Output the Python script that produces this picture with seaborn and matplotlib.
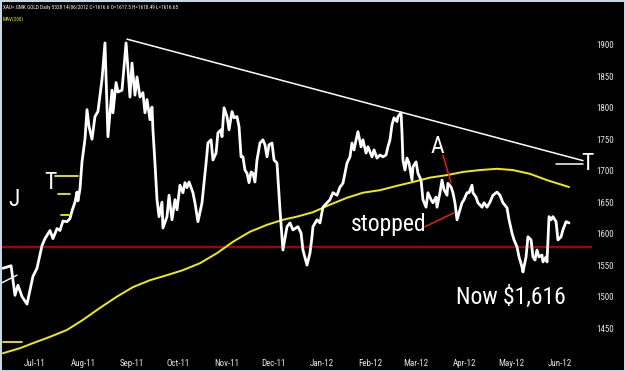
import matplotlib
matplotlib.use("Agg")
import matplotlib.pyplot as plt
import numpy as np
import pandas as pd
import seaborn as sns

# -----------------------------------------------------------------------------
# DATOS (días desde el 18/06/2011)
# -----------------------------------------------------------------------------
start = pd.Timestamp("2011-06-18")

price_days = [
    0.6, 5.8, 8.3, 10.2, 12.8, 16.0, 19.8, 22.4, 25.6, 27.5, 30.7, 32.6, 35.2, 37.1, 39.0, 41.6,
    43.5, 44.8, 46.7, 48.0, 48.6, 49.9, 51.2, 53.1, 54.4, 55.7, 57.6, 59.5, 61.4, 64.0, 65.9,
    67.8, 70.4, 71.0, 73.0, 74.2, 76.8, 79.4, 81.9, 83.2, 85.1, 86.4, 88.3, 90.2, 91.5, 92.8,
    94.7, 96.0, 96.6, 97.9, 99.2, 100.5, 102.4, 103.0, 105.6, 106.9, 108.8, 110.7, 112.0, 113.9,
    115.8, 117.1, 118.4, 119.7, 122.2, 123.5, 125.4, 128.0,
    130.6, 131.8, 133.8, 135.0, 137.0, 138.2, 140.2, 140.8, 142.1, 144.0, 145.3, 147.2, 148.5,
    150.4, 151.7, 153.0, 154.2, 155.5, 156.8, 158.1, 159.4, 160.6, 161.9, 163.2, 165.1, 167.0,
    168.3, 169.6, 170.9, 172.8, 174.1, 176.0,
    177.9, 179.8, 182.4, 184.3, 186.2, 189.4, 191.4, 192.6, 195.2, 197.1, 198.4, 199.0, 201.6,
    203.5, 205.4, 208.0, 209.9, 211.8, 214.4, 216.3, 218.2, 220.8, 222.7, 224.0, 225.3, 226.6,
    227.8, 229.8, 231.0, 233.0, 234.2, 236.8, 238.1, 240.0, 241.9, 243.8, 245.8, 247.0, 248.3,
    249.6, 250.9, 252.8, 253.4, 255.4,
    256.0, 256.6, 257.9, 259.2, 260.5, 262.4, 263.0, 265.0, 266.2, 268.2, 269.4, 271.4, 272.6,
    274.6, 275.8, 277.8, 278.4, 280.3, 281.6, 282.9, 284.8, 285.4, 287.4, 288.6, 289.9, 291.2,
    292.5, 294.4, 295.7, 297.6, 298.9, 300.8, 301.4, 303.4, 304.6, 307.2, 308.5, 310.4, 312.3,
    314.2, 316.8, 318.7, 320.6, 323.2, 324.5, 326.4, 327.7, 329.6, 330.9, 332.8, 333.4, 335.4,
    336.6, 338.6, 339.8, 341.1, 342.4, 343.7, 345.6, 346.2, 348.2, 348.8, 350.1, 351.4, 352.6,
    354.6, 355.8, 357.8, 359.0, 361.0, 362.9,
]
price_close = [
    1545, 1549, 1502, 1518, 1500, 1488, 1532, 1545, 1581, 1592, 1605, 1592, 1608, 1605, 1620, 1619,
    1624, 1636, 1650, 1666, 1652, 1671, 1714, 1750, 1797, 1770, 1750, 1786, 1794, 1845, 1903,
    1754, 1828, 1792, 1840, 1825, 1828, 1903, 1817, 1871, 1820, 1849, 1817, 1824, 1792, 1813,
    1781, 1801, 1765, 1712, 1654, 1627, 1650, 1609, 1627, 1661, 1622, 1654, 1638, 1677,
    1665, 1681, 1673, 1682, 1665, 1649, 1619, 1649,
    1712, 1744, 1749, 1717, 1728, 1760, 1765, 1754, 1800, 1786, 1765, 1794, 1784,
    1786, 1770, 1722, 1722, 1701, 1696, 1681, 1698, 1696, 1682, 1717, 1744, 1749,
    1741, 1722, 1741, 1744, 1717, 1712,
    1638, 1574, 1611, 1617, 1606, 1611, 1601, 1574, 1550, 1569, 1595, 1611, 1622,
    1617, 1642, 1649, 1654, 1665, 1661, 1674, 1680, 1712, 1722, 1744, 1733, 1749,
    1762, 1738, 1749, 1728, 1738, 1722, 1733, 1720, 1725, 1722, 1725, 1738, 1749,
    1773, 1784, 1778, 1786, 1792,
    1760, 1717, 1701, 1720, 1712, 1685, 1706, 1714, 1696, 1685, 1654, 1642, 1665,
    1654, 1649, 1658, 1642, 1665, 1685, 1670, 1661, 1680, 1674, 1665, 1649, 1622,
    1633, 1649, 1654, 1665, 1665, 1677, 1665, 1658, 1649, 1642, 1649, 1642, 1650,
    1661, 1666, 1661, 1649, 1641, 1622, 1601, 1590, 1579, 1563, 1547, 1539, 1563,
    1595, 1590, 1563, 1558, 1574, 1563, 1566, 1555, 1563, 1555, 1627, 1622, 1627,
    1619, 1590, 1595, 1606, 1619, 1617,
]

# Media móvil de 200 sesiones
mav_days = [0.6, 11.5, 19.8, 30.7, 41.6, 51.8, 62.7, 73.6, 83.8, 94.7, 105.6, 115.8,
            126.7, 137.6, 147.8, 158.7, 169.6, 179.8, 188.8, 199.0, 209.9, 220.8,
            231.0, 241.9, 252.8, 263.0, 273.9, 284.8, 295.0, 305.9, 316.8, 327.0,
            337.9, 348.8, 362.9]
mav_values = [1410, 1418, 1426, 1436, 1447, 1463, 1482, 1500, 1515, 1526, 1534, 1542,
              1553, 1569, 1587, 1603, 1614, 1622, 1627, 1634, 1646, 1657,
              1665, 1669, 1676, 1682, 1689, 1693, 1698, 1701, 1703, 1701,
              1695, 1685, 1674]

support_level = 1578
trend_days = [80.0, 371.8]
trend_values = [1909, 1716]

tick_dates = ["2011-07-09", "2011-08-09", "2011-09-09", "2011-10-09", "2011-11-09", "2011-12-09",
              "2012-01-09", "2012-02-09", "2012-03-09", "2012-04-09", "2012-05-09", "2012-06-09"]
tick_labels = ["Jul-11", "Aug-11", "Sep-11", "Oct-11", "Nov-11", "Dec-11",
               "Jan-12", "Feb-12", "Mar-12", "Apr-12", "May-12", "Jun-12"]
y_ticks = [1450, 1500, 1550, 1600, 1650, 1700, 1750, 1800, 1850, 1900]

header = "XAU=.GMK GOLD Daily 5328 14/06/2012 C=1616.6 O=1617.5 H=1618.49 L=1616.65"


def to_date(days):
    return start + pd.to_timedelta(np.asarray(days, dtype=float), unit="D")


price_df = pd.DataFrame({"date": to_date(price_days), "close": price_close})
mav_df = pd.DataFrame({"date": to_date(mav_days), "mav": mav_values})

# -----------------------------------------------------------------------------
# GRÁFICO
# -----------------------------------------------------------------------------
sns.set_theme(style="dark", rc={"axes.facecolor": "black", "figure.facecolor": "black",
                                "axes.grid": False})
plt.rcParams["font.family"] = ["Roboto Condensed", "Roboto", "DejaVu Sans"]

fig = plt.figure(figsize=(6.25, 3.71), dpi=100)
ax = fig.add_axes([2 / 625, 14 / 371, 590 / 625, 355 / 371])
ax.set_facecolor("black")

ax.axhline(support_level, color="#a80000", linewidth=1.6, zorder=1)

sns.lineplot(data=mav_df, x="date", y="mav", color="#f2ee00", linewidth=1.4,
             estimator=None, ax=ax, zorder=2)
sns.lineplot(data=price_df, x="date", y="close", color="white", linewidth=2.0,
             estimator=None, ax=ax, zorder=3)

# línea de tendencia bajista
ax.plot(to_date(trend_days), trend_values, color="white", linewidth=1.1, zorder=3)
ax.plot(to_date([354.6, 371.8]), [1710, 1710], color="white", linewidth=1.1, zorder=3)
ax.plot(to_date([0.0, 9.6]), [1522, 1534], color="white", linewidth=1.0, zorder=3)

# marcas amarillas
for d0, d1, lvl in [(33.9, 48.6, 1692), (35.8, 43.5, 1663), (37.8, 43.5, 1630), (0.6, 12.8, 1428)]:
    ax.plot(to_date([d0, d1]), [lvl, lvl], color="#f2ee00", linewidth=1.3, zorder=3)

# flechas rojas
ax.plot(to_date([282.2, 287.4]), [1725, 1681], color="#ff1a1a", linewidth=1.0, zorder=4)
ax.plot(to_date([270.7, 289.3]), [1611, 1633], color="#ff1a1a", linewidth=1.0, zorder=4)

label_kw = dict(color="white", ha="center", va="center", fontsize=17, zorder=5)
ax.text(to_date([7.7])[0], 1654, "J", **label_kw)
ax.text(to_date([30.7])[0], 1682, "T", **label_kw)
ax.text(to_date([278.4])[0], 1738, "A", **label_kw)
ax.text(to_date([247.7])[0], 1614, "stopped", **label_kw)
ax.text(to_date([325.8])[0], 1498, "Now $1,616", **label_kw)
ax.text(to_date([374.4])[0], 1712, "T", **label_kw)

ax.set_xlim(start, start + pd.Timedelta(days=377.6))
ax.set_ylim(1404, 1968)
ax.set_xticks(pd.to_datetime(tick_dates))
ax.set_xticklabels(tick_labels)
ax.set_yticks(y_ticks)
ax.set_yticklabels([str(v) for v in y_ticks])
ax.tick_params(axis="x", length=0, pad=1.2, labelsize=6.5, colors="#e6e6e6")
ax.tick_params(axis="y", length=0, pad=3, labelsize=6.5, colors="#e6e6e6",
               labelleft=False, labelright=True)
ax.set_xlabel("")
ax.set_ylabel("")
for spine in ax.spines.values():
    spine.set_visible(False)

fig.text(3 / 625, 1 - 8 / 371, header, color="white", fontsize=3.8, va="center", ha="left")
fig.text(3 / 625, 1 - 19 / 371, "MAV(200)", color="#f2ee00", fontsize=3.8, va="center", ha="left")

fig.patch.set_edgecolor("#c9d6e3")
fig.patch.set_linewidth(2)

fig.savefig("out.png", dpi=100, facecolor=fig.get_facecolor(), edgecolor=fig.get_edgecolor())
